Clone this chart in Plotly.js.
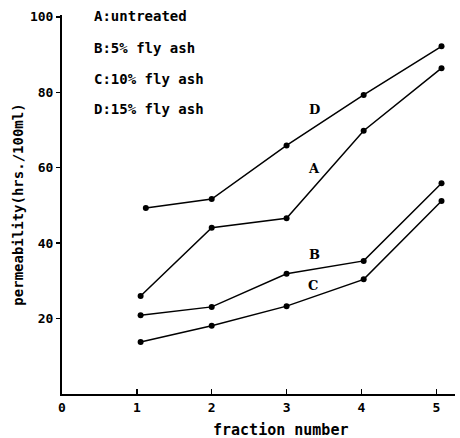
<!DOCTYPE html>
<html>
<head>
<meta charset="utf-8">
<script src="https://cdn.plot.ly/plotly-3.0.1.min.js"></script>
<style>html,body{margin:0;padding:0;background:#fff;}#chart{width:460px;height:438px;}</style>
</head>
<body>
<div id="chart"></div>
<script>
// Data
const fraction = [1.05, 2, 3, 4.03, 5.07];
const seriesA = [26.0, 44.1, 46.6, 69.8, 86.4];
const seriesB = [20.9, 23.1, 31.9, 35.3, 55.9];
const seriesC = [13.8, 18.1, 23.3, 30.4, 51.2];
const seriesD = [49.3, 51.7, 65.9, 79.3, 92.2];
const fractionD = [1.12, 2, 3, 4.03, 5.07];
const keyLines = ["A:untreated", "B:5% fly ash", "C:10% fly ash", "D:15% fly ash"];
const curveLabels = ["D", "A", "B", "C"];
const curveLabelX = [3.37, 3.37, 3.37, 3.35];
const curveLabelY = [75.4, 59.8, 37.0, 28.8];
const xTicks = [0, 1, 2, 3, 4, 5];
const yTicks = [20, 40, 60, 80, 100];
const xTitle = "fraction number";
const yTitle = "permeability(hrs./100ml)";

const mono = "DejaVu Sans Mono";
function tr(x, y) {
  return {x: x, y: y, mode: "lines+markers", type: "scatter",
    line: {color: "#000", width: 1.5},
    marker: {color: "#000", size: 6},
    showlegend: false, hoverinfo: "skip"};
}
const data = [tr(fraction, seriesA), tr(fraction, seriesB), tr(fraction, seriesC), tr(fractionD, seriesD)];

const keyY = [100.3, 91.8, 83.6, 75.5];
const annotations = [];
keyLines.forEach((t, i) => annotations.push({
  x: 0.4, y: keyY[i], xref: "x", yref: "y", text: "<b>" + t + "</b>",
  showarrow: false, xanchor: "left", yanchor: "middle",
  font: {family: mono, size: 14, color: "#000"}
}));
curveLabels.forEach((t, i) => annotations.push({
  x: curveLabelX[i], y: curveLabelY[i], xref: "x", yref: "y", text: "<b>" + t + "</b>",
  showarrow: false, xanchor: "center", yanchor: "middle",
  font: {family: "DejaVu Serif", size: 13, color: "#000"}
}));
annotations.push({
  x: 0.555, y: -0.095, xref: "paper", yref: "paper", text: "<b>" + xTitle + "</b>",
  showarrow: false, xanchor: "center", yanchor: "middle",
  font: {family: mono, size: 15, color: "#000"}
});

const layout = {
  width: 460, height: 438,
  margin: {l: 62, r: 5, t: 15, b: 44},
  paper_bgcolor: "#fff", plot_bgcolor: "#fff",
  font: {family: mono, color: "#000"},
  xaxis: {
    range: [0, 5.25], tickvals: xTicks, ticktext: xTicks.map(v => "<b>" + v + "</b>"),
    showgrid: false, zeroline: false, showline: true, linecolor: "#000", linewidth: 2,
    ticks: "inside", ticklen: 5, tickcolor: "#000", tickwidth: 1.5,
    tickfont: {family: mono, size: 13, color: "#000"}
  },
  yaxis: {
    range: [0, 100.5], tickvals: yTicks, ticktext: yTicks.map(v => "<b>" + v + "</b>"),
    showgrid: false, zeroline: false, showline: true, linecolor: "#000", linewidth: 2,
    ticks: "outside", ticklen: 4, tickcolor: "#000", tickwidth: 1.5,
    tickfont: {family: mono, size: 13, color: "#000"},
    title: {text: "<b>" + yTitle + "</b>", font: {family: mono, size: 14, color: "#000"}, standoff: 3}
  },
  annotations: annotations
};
Plotly.newPlot("chart", data, layout, {staticPlot: true, displayModeBar: false});
</script>
</body>
</html>
